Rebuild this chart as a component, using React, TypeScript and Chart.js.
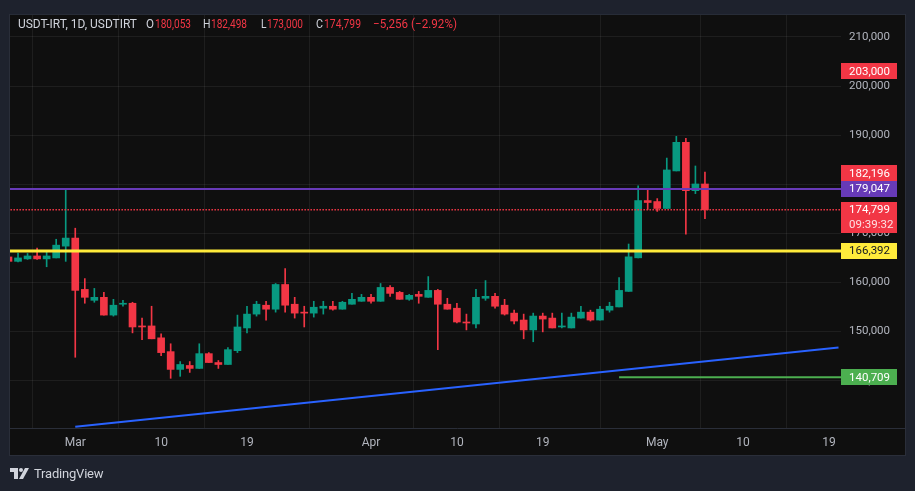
import { useEffect, useLayoutEffect, useRef } from "react";
import { Chart, registerables } from "chart.js";
Chart.register(...registerables);

// ---- data ----
const dates = [
  "2026-02-22","2026-02-23","2026-02-24","2026-02-25","2026-02-26","2026-02-27","2026-02-28",
  "2026-03-01","2026-03-02","2026-03-03","2026-03-04","2026-03-05","2026-03-06","2026-03-07","2026-03-08","2026-03-09","2026-03-10",
  "2026-03-11","2026-03-12","2026-03-13","2026-03-14","2026-03-15","2026-03-16","2026-03-17","2026-03-18","2026-03-19","2026-03-20",
  "2026-03-21","2026-03-22","2026-03-23","2026-03-24","2026-03-25","2026-03-26","2026-03-27","2026-03-28","2026-03-29","2026-03-30","2026-03-31",
  "2026-04-01","2026-04-02","2026-04-03","2026-04-04","2026-04-05","2026-04-06","2026-04-07","2026-04-08","2026-04-09","2026-04-10",
  "2026-04-11","2026-04-12","2026-04-13","2026-04-14","2026-04-15","2026-04-16","2026-04-17","2026-04-18","2026-04-19","2026-04-20",
  "2026-04-21","2026-04-22","2026-04-23","2026-04-24","2026-04-25","2026-04-26","2026-04-27","2026-04-28","2026-04-29","2026-04-30",
  "2026-05-01","2026-05-02","2026-05-03","2026-05-04","2026-05-05","2026-05-06",
];
const opens = [
  165200,164300,164800,165400,164800,165000,167400,
  169040,158590,156370,156980,153360,155570,155770,151150,151150,148730,
  145920,142300,143100,142500,145510,143700,143300,146120,150740,153560,
  155370,154560,159590,155570,153960,153760,154760,155160,154560,155570,156170,
  156980,156170,158990,157980,156570,157580,156980,158390,155570,154760,
  151950,151550,156780,157180,155370,153760,152350,150340,153160,152750,
  150940,150740,152750,153960,152350,154360,155020,158180,165020,176680,
  176480,175070,182710,188540,178690,180053,
];
const highs = [
  165500,166000,165900,167000,166300,168800,178900,
  171050,160790,158790,157980,156570,156370,155970,152750,155160,149540,
  147520,143900,143900,147520,145720,144110,146720,153360,155160,156170,
  156170,159790,162810,156980,155160,156170,156170,156170,156170,157780,157580,
  157580,159790,159390,158180,157580,158180,161200,158590,156780,155770,
  153560,158590,160390,157780,156570,154360,153560,153760,153760,153760,
  153760,153760,155160,154360,155160,155970,161000,167830,179700,178890,
  177080,185330,189750,189350,183720,182498,
];
const lows = [
  164100,164200,164700,164700,163200,165000,164300,
  144770,155770,155970,153360,153150,155160,149740,148330,148530,145110,
  140490,140890,141690,142500,143700,142500,143300,145720,149740,153150,
  152350,153960,153960,152750,150940,152950,153560,154360,154560,155570,156170,
  155770,156170,157180,156570,156370,155770,156980,146320,154560,151750,
  150340,150740,156370,154760,153360,151550,148530,147930,149940,150740,
  150740,150740,152750,152150,152350,153960,155020,158180,165020,174870,
  174470,175070,182710,169840,178090,173000,
];
const closes = [
  164300,165000,165400,164800,165400,167600,169040,
  158390,156980,156980,153360,155370,155770,150940,150940,148530,145720,
  142300,143300,142500,145510,143700,143300,146320,150940,153560,155570,
  154560,159590,155370,153760,153760,154960,155160,154560,155970,156570,156980,
  156170,158990,157780,156570,157380,157180,158390,155570,154560,151950,
  151750,156980,157180,155160,153560,152150,150340,153160,152550,150740,
  151150,152950,153960,152350,154560,155160,158390,165220,176680,176280,
  175070,182910,188540,178690,180055,174799,
];

const xTickDates = ["2026-03-01","2026-03-10","2026-03-19","2026-04-01","2026-04-10","2026-04-19","2026-05-01","2026-05-10","2026-05-19"];
const xTickLabels = ["Mar","10","19","Apr","10","19","May","10","19"];
const yTicks = [140000, 150000, 160000, 170000, 180000, 190000, 200000, 210000];

const purpleLevel = 179047;
const yellowLevel = 166392;
const greenLevel = 140709;
const greenStartDate = "2026-04-27";
const lastPrice = 174799;
const trendDates = ["2026-03-01", "2026-05-20"];
const trendValues = [130620, 146780];

const priceLabels = [203000, 182196, 179047, 174799, 166392, 140709];
const priceLabelText = ["203,000", "182,196", "179,047", "174,799", "166,392", "140,709"];
const countdownText = "09:39:32";

const legendTitle = "USDT-IRT, 1D, USDTIRT";
const legendO = "180,053";
const legendH = "182,498";
const legendL = "173,000";
const legendC = "174,799";
const legendChange = "\u22125,256 (\u22122.92%)";

// ---- styles ----
const UP = "#089981";
const DOWN = "#f23645";
const labelBg = [DOWN, DOWN, "#673ab7", DOWN, "#ffeb3b", "#4caf50"];
const labelFg = ["#ffffff", "#ffffff", "#ffffff", "#ffffff", "#131722", "#ffffff"];

const BASE = Date.UTC(2026, 2, 1);
const dayOf = (d: string) => {
  const [y, m, dd] = d.split("-").map(Number);
  return Math.round((Date.UTC(y, m - 1, dd) - BASE) / 86400000);
};
const xDays = dates.map(dayOf);
const xTickDays = xTickDates.map(dayOf);
const FONT = "Roboto, 'Noto Sans', sans-serif";

function FitText({ left, width, text, color }: { left: number; width: number; text: string; color: string }) {
  const r = useRef<HTMLSpanElement | null>(null);
  useLayoutEffect(() => {
    const el = r.current;
    if (!el) return;
    el.style.transform = "none";
    const w = el.getBoundingClientRect().width;
    if (w > 0) el.style.transform = `scaleX(${width / w})`;
  }, [width, text]);
  return (
    <span
      ref={r}
      style={{ position: "absolute", left, top: 0, color, whiteSpace: "nowrap", display: "inline-block", transformOrigin: "0 50%" }}
    >
      {text}
    </span>
  );
}

export default function App() {
  const ref = useRef<HTMLCanvasElement | null>(null);

  useEffect(() => {
    if (!ref.current) return;
    const colors = opens.map((o, i) => (closes[i] >= o ? UP : DOWN));
    const X_MIN = -6.84;
    const X_MAX = 80.26;

    const chromePlugin = {
      id: "chrome",
      beforeDraw(chart: any) {
        const { ctx, chartArea } = chart;
        ctx.save();
        ctx.fillStyle = "#1e222d";
        ctx.fillRect(0, 0, chart.width, chart.height);
        const pl = chartArea.left, pt = chartArea.top;
        const pr = chart.width - 10, pb = chartArea.bottom + 27;
        ctx.fillStyle = "#0f0f0f";
        ctx.fillRect(pl, pt, pr - pl, pb - pt);
        ctx.strokeStyle = "#2a2e39";
        ctx.lineWidth = 1;
        ctx.strokeRect(pl - 0.5, pt - 0.5, pr - pl + 1, pb - pt + 1);
        ctx.restore();
      },
      afterDraw(chart: any) {
        const { ctx, chartArea } = chart;
        const ys = chart.scales.y;
        ctx.save();
        ctx.strokeStyle = "#2a2e39";
        ctx.lineWidth = 1;
        ctx.beginPath();
        ctx.moveTo(chartArea.left, Math.round(chartArea.bottom) + 0.5);
        ctx.lineTo(chart.width - 10, Math.round(chartArea.bottom) + 0.5);
        ctx.stroke();
        ctx.font = `11.5px ${FONT}`;
        ctx.textBaseline = "middle";
        priceLabels.forEach((v, i) => {
          const py = ys.getPixelForValue(v);
          const x0 = chartArea.right;
          const isLast = v === lastPrice;
          const h = isLast ? 31 : 16;
          ctx.fillStyle = labelBg[i];
          ctx.fillRect(x0, Math.round(py - 8), 56, h);
          ctx.fillStyle = labelFg[i];
          ctx.fillText(priceLabelText[i], x0 + 8, py + 0.5);
          if (isLast) {
            ctx.fillStyle = "rgba(255,255,255,0.85)";
            ctx.fillText(countdownText, x0 + 8, py + 15);
          }
        });
        ctx.restore();
      },
    };

    const hLine = (v: number, color: string, width: number, dash?: number[], from = -20) => ({
      type: "line" as const,
      data: [{ x: from, y: v }, { x: 100, y: v }],
      borderColor: color,
      borderWidth: width,
      borderDash: dash || [],
      pointRadius: 0,
      order: 0,
      clip: 0,
    });

    const chart = new Chart(ref.current, {
      type: "bar",
      data: {
        datasets: [
          hLine(lastPrice, DOWN, 1.4, [1.5, 1.5]),
          hLine(yellowLevel, "#ffeb3b", 3),
          hLine(purpleLevel, "#673ab7", 2),
          hLine(greenLevel, "#4caf50", 2, undefined, dayOf(greenStartDate)),
          {
            type: "line" as const,
            data: trendDates.map((d, i) => ({ x: dayOf(d), y: trendValues[i] })),
            borderColor: "#2962ff",
            borderWidth: 2,
            pointRadius: 0,
            order: 0,
            clip: 0,
          } as any,
          {
            type: "bar" as const,
            data: xDays.map((x, i) => ({ x, y: [opens[i], closes[i]] })) as any,
            backgroundColor: colors,
            barThickness: 7,
            minBarLength: 1,
            grouped: false,
            order: 1,
          },
          {
            type: "bar" as const,
            data: xDays.map((x, i) => ({ x, y: [lows[i], highs[i]] })) as any,
            backgroundColor: colors,
            barThickness: 1,
            grouped: false,
            order: 2,
          },
        ] as any,
      },
      options: {
        animation: false,
        responsive: false,
        devicePixelRatio: 1,
        events: [],
        layout: { padding: { left: 10, top: 10, right: 0, bottom: 36 } },
        plugins: { legend: { display: false }, tooltip: { enabled: false } },
        scales: {
          x: {
            type: "linear",
            min: X_MIN,
            max: X_MAX,
            offset: false,
            afterFit: (s: any) => { s.height = 27; },
            afterBuildTicks: (s: any) => { s.ticks = xTickDays.map((v) => ({ value: v })); },
            ticks: {
              color: "#b2b5be",
              font: { family: FONT, size: 12 },
              padding: 8,
              maxRotation: 0,
              autoSkip: false,
              callback: (v: any) => {
                const k = xTickDays.indexOf(Number(v));
                return k >= 0 ? xTickLabels[k] : "";
              },
            },
            grid: { color: "rgba(242,242,242,0.07)", drawTicks: false },
            border: { display: false },
          },
          y: {
            type: "linear",
            position: "right",
            min: 130370,
            max: 214480,
            afterFit: (s: any) => { s.width = 74; },
            afterBuildTicks: (s: any) => { s.ticks = yTicks.map((v) => ({ value: v })); },
            ticks: {
              color: "#b2b5be",
              font: { family: FONT, size: 11.5 },
              padding: 8,
              autoSkip: false,
              callback: (v: any) => Number(v).toLocaleString("en-US"),
            },
            grid: { color: "rgba(242,242,242,0.07)", drawTicks: false },
            border: { display: false },
          },
        },
      } as any,
      plugins: [chromePlugin],
    });
    return () => chart.destroy();
  }, []);

  const GRAY = "#d1d4dc";
  return (
    <div style={{ position: "fixed", left: 0, top: 0, width: 915, height: 491, background: "#1e222d", overflow: "hidden" }}>
      <canvas ref={ref} width={915} height={491} style={{ display: "block", width: 915, height: 491 }} />
      <div style={{ position: "absolute", left: 0, top: 16, height: 16, width: 500, fontFamily: FONT, fontSize: 12.5, lineHeight: "16px" }}>
        <FitText left={18} width={119} text={legendTitle} color={GRAY} />
        <FitText left={146} width={8} text="O" color={GRAY} />
        <FitText left={155} width={36} text={legendO} color={DOWN} />
        <FitText left={203} width={7.5} text="H" color={GRAY} />
        <FitText left={211} width={36} text={legendH} color={DOWN} />
        <FitText left={261} width={5.5} text="L" color={GRAY} />
        <FitText left={267} width={36} text={legendL} color={DOWN} />
        <FitText left={316} width={7} text="C" color={GRAY} />
        <FitText left={324} width={37} text={legendC} color={DOWN} />
        <FitText left={372.5} width={84} text={legendChange} color={DOWN} />
      </div>
      <div style={{ position: "absolute", left: 10, top: 465, height: 16, display: "flex", alignItems: "center", gap: 4 }}>
        <svg width="20" height="11" viewBox="0 0 20 11">
          <rect x="0" y="0" width="8" height="4" fill={GRAY} />
          <rect x="4" y="0" width="4" height="11" fill={GRAY} />
          <circle cx="11" cy="2" r="2" fill={GRAY} />
          <polygon points="9,11 13,11 19,0 15,0" fill={GRAY} />
        </svg>
        <span style={{ fontFamily: FONT, fontSize: 13, color: GRAY, letterSpacing: "-0.2px" }}>TradingView</span>
      </div>
    </div>
  );
}
